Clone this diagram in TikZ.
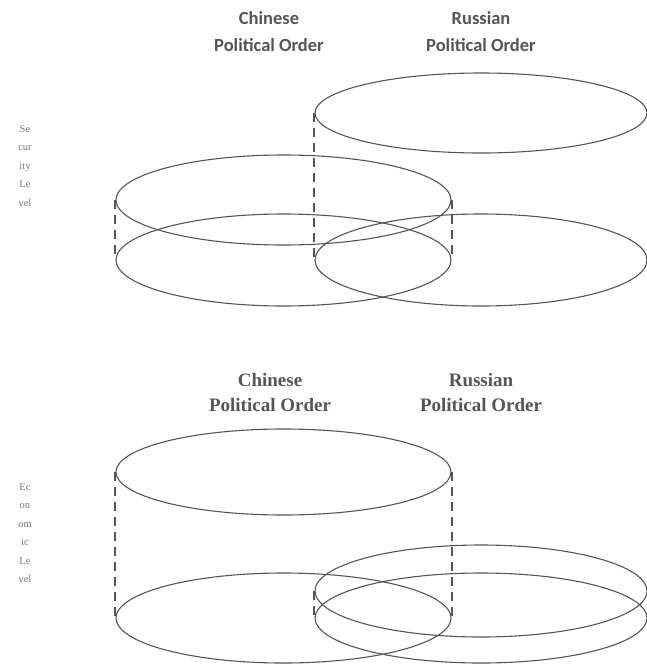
\documentclass[tikz,border=0pt]{standalone}
\usepackage{fontspec}
\setmainfont{Liberation Serif}
\newfontfamily\calfont{Carlito}
\usetikzlibrary{shapes.geometric}
\definecolor{ink}{HTML}{555555}
\begin{document}
\begin{tikzpicture}[x=1pt,y=-1pt,
  disc/.style={draw=ink, line width=1.1pt, ellipse, inner sep=0pt, minimum width=335pt, minimum height=90pt},
  rdisc/.style={disc, minimum width=332pt},
  link/.style={draw=ink, line width=2pt, dash pattern=on 9pt off 6pt},
  titlesans/.style={text=ink, font=\calfont\bfseries\fontsize{18.5}{27}\selectfont, align=center},
  titleserif/.style={text=ink, font=\bfseries\fontsize{19}{25}\selectfont, align=center},
  sidelabel/.style={text=ink!80, font=\fontsize{10.5}{18.5}\selectfont, align=center}]
\useasboundingbox (0,0) rectangle (647,664);
% ---------- Security level ----------
\node[titlesans] (tc1) at (269,32) {Chinese\\Political Order};
\node[titlesans] (tr1) at (481,32) {Russian\\Political Order};
\node[sidelabel] (sec) at (25,166) {Se\\cur\\ity\\Le\\vel};
\node[rdisc, minimum height=80pt] (rt1) at (481,113) {};
\node[disc] (ct1) at (283.5,200) {};
\node[disc, minimum height=92pt] (cb1) at (283.5,260) {};
\node[rdisc, minimum height=92pt] (rb1) at (481,260) {};
\draw[link] (ct1.west) -- (cb1.west);
\draw[link] (ct1.east) -- (cb1.east);
\draw[link] (rt1.west) -- (rb1.west);
% ---------- Economic level ----------
\node[titleserif] (tc2) at (270,392) {Chinese\\Political Order};
\node[titleserif] (tr2) at (481,392) {Russian\\Political Order};
\node[sidelabel] (eco) at (25,533) {Ec\\on\\om\\ic\\Le\\vel};
\node[disc, minimum height=86pt] (ct2) at (283.5,472) {};
\node[disc] (cb2) at (283.5,618) {};
\node[rdisc, minimum height=92pt] (rt2) at (481,591) {};
\node[rdisc] (rb2) at (481,618) {};
\draw[link] (ct2.west) -- (cb2.west);
\draw[link] (ct2.east) -- (cb2.east);
\draw[link] (rt2.west) -- (rb2.west);
\end{tikzpicture}
\end{document}
